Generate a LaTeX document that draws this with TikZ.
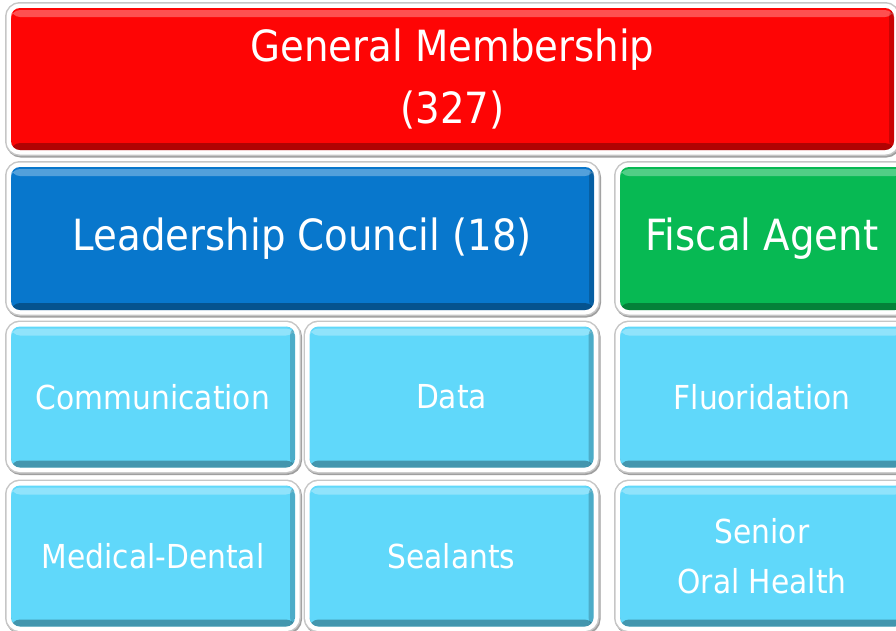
\documentclass[tikz,border=0pt]{standalone}
\usepackage{fontspec}
\setmainfont{DejaVu Sans Condensed}
\usepackage{tikz}

\definecolor{gmred}{HTML}{FE0505}
\definecolor{lcblue}{HTML}{0877CC}
\definecolor{fagreen}{HTML}{07B953}
\definecolor{wgblue}{HTML}{60D8FA}

\tikzset{
  tile/.style={rounded corners=9pt, inner sep=0pt, align=center, text=white,
    preaction={draw=gray!75, line width=12pt, transform canvas={xshift=1pt, yshift=-1.5pt}},
    preaction={draw=gray!45, line width=12pt},
    preaction={draw=white, line width=9pt},
    path picture={
      \fill[white, opacity=0.3] ([yshift=-2pt]path picture bounding box.north west) rectangle ([yshift=-9pt]path picture bounding box.north east);
      \fill[black, opacity=0.3] (path picture bounding box.south west) rectangle ([yshift=7pt]path picture bounding box.south east);
      \fill[black, opacity=0.2] ([xshift=-5pt]path picture bounding box.south east) rectangle (path picture bounding box.north east);
    }},
  bigtile/.style={tile, minimum height=143pt, font=\fontsize{43}{62}\selectfont},
  smalltile/.style={tile, fill=wgblue, minimum width=284pt, minimum height=141pt, font=\fontsize{33}{50}\selectfont}
}

\begin{document}
\begin{tikzpicture}[x=1pt, y=1pt]
  \useasboundingbox (0,0) rectangle (896,-630);
  \clip (0,0) rectangle (896,-630);
  \fill[white] (0,0) rectangle (896,-630);

  \node[bigtile, fill=gmred, minimum width=883pt, minimum height=142pt] (gm) at (452.5,-79) {General Membership\\(327)};
  \node[bigtile, fill=lcblue, minimum width=583pt] (lc) at (302.5,-238.5) {Leadership Council (18)};
  \node[bigtile, fill=fagreen, minimum width=284pt] (fa) at (762,-238.5) {Fiscal Agent};

  \node[smalltile] (com) at (153,-397) {Communication};
  \node[smalltile] (data) at (451.5,-397) {Data};
  \node[smalltile] (flu) at (762,-397) {Fluoridation};
  \node[smalltile] (med) at (153,-556) {Medical-Dental};
  \node[smalltile] (seal) at (451.5,-556) {Sealants};
  \node[smalltile] (sen) at (762,-556) {Senior\\Oral Health};
\end{tikzpicture}
\end{document}
